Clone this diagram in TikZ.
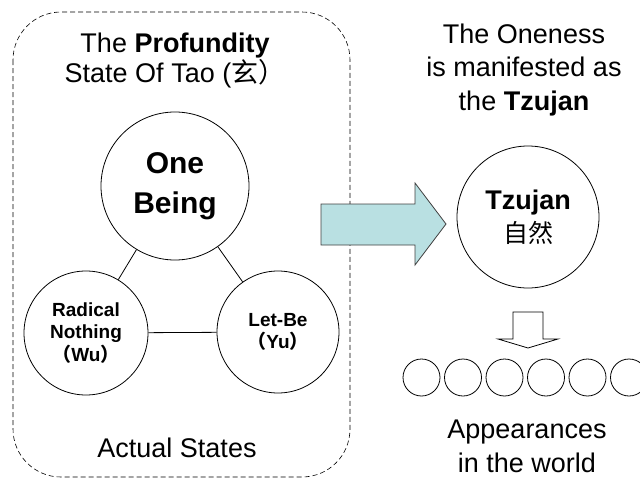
\documentclass[tikz,border=0pt]{standalone}
\usepackage{fontspec}
\setmainfont{Liberation Sans}
\newfontfamily\cjk{Noto Sans CJK SC}
\definecolor{arrowfill}{RGB}{185,224,226}
\begin{document}
\begin{tikzpicture}[x=1pt,y=-1pt,line width=0.8pt,
    txt/.style={align=center,inner sep=0pt,font=\fontsize{27}{30}\selectfont},
    state/.style={draw,circle,inner sep=0pt,align=center,font=\bfseries\fontsize{19}{22.5}\selectfont},
    blockarrow/.style={draw=black!75,fill=arrowfill}]
    \useasboundingbox (0,0) rectangle (640,479);
    \draw[line width=0.6pt,dash pattern=on 5pt off 3pt,rounded corners=48pt] (13,12) rectangle (350,477);
    \node[txt,anchor=base] (title) at (175,82) {The \textbf{Profundity}\\State Of Tao ({\cjk 玄）}};
    \node[state,minimum size=148pt,font=\bfseries\fontsize{30}{40}\selectfont] (one) at (175,186) {One\\Being};
    \node[state,minimum size=124pt] (wu) at (86,333) {Radical\\Nothing\\{\cjk （}Wu{\cjk ）}};
    \node[state,minimum size=122pt] (yu) at (278,332) {Let-Be\\{\cjk （}Yu{\cjk ）}};
    \draw (one) -- (wu) (one) -- (yu) (wu) -- (yu);
    \node[txt,anchor=base] (actual) at (177,457) {Actual States};
    \draw[blockarrow] (321,204) -- (415,204) -- (415,183) -- (446,224) -- (415,265) -- (415,245) -- (321,245) -- cycle;
    \node[txt,anchor=base,font=\fontsize{27}{33.5}\selectfont] (oneness) at (524,110) {The Oneness\\is manifested as\\the \textbf{Tzujan}};
    \node[draw,circle,minimum size=142pt,inner sep=0pt,align=center] (tzujan) at (528,217)
        {{\bfseries\fontsize{27}{30}\selectfont Tzujan}\\[5pt]{\cjk\fontsize{25}{30}\selectfont 自然}};
    \draw (513,312) -- (543,312) -- (543,339) -- (558,339) -- (528,348) -- (498,339) -- (513,339) -- cycle;
    \foreach \i in {1,...,6}
        \node[draw,circle,minimum size=37pt,inner sep=0pt] (app\i) at ({421.5+41.5*(\i-1)},377.5) {};
    \node[txt,anchor=base,font=\fontsize{27}{34}\selectfont] (appear) at (527,472) {Appearances\\in the world};
\end{tikzpicture}
\end{document}
